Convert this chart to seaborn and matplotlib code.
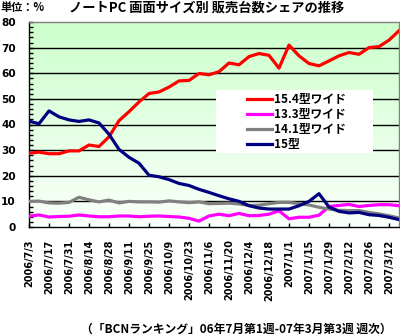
import numpy as np
import pandas as pd
import matplotlib
matplotlib.use("Agg")
import matplotlib.pyplot as plt
from matplotlib.patches import Rectangle
import seaborn as sns

# Weekly share (%) of notebook PC unit sales by screen size, 2006/7/3 - 2007/3/19
weeks = pd.date_range("2006-07-03", periods=38, freq="7D")
week_labels = [f"{d.year}/{d.month}/{d.day}" for d in weeks]

share_154w = [28.8, 29.2, 28.6, 28.6, 29.7, 29.7, 32.0, 31.4, 35.2, 41.5,
              45.0, 48.8, 52.1, 52.7, 54.6, 57.0, 57.2, 59.9, 59.4, 60.6,
              64.0, 63.3, 66.5, 67.7, 67.0, 62.0, 71.0, 66.8, 63.8, 62.9,
              64.8, 66.8, 68.1, 67.4, 70.0, 70.4, 72.9, 76.6]
share_133w = [4.2, 4.7, 3.9, 4.1, 4.2, 4.7, 4.3, 4.0, 4.0, 4.3,
              4.3, 4.0, 4.2, 4.3, 4.1, 3.9, 3.4, 2.3, 4.3, 5.0,
              4.4, 5.3, 4.4, 4.5, 5.0, 6.3, 3.2, 3.8, 3.8, 4.6,
              8.0, 8.4, 8.8, 8.0, 8.4, 8.7, 8.7, 8.3]
share_141w = [10.0, 10.1, 9.4, 9.3, 9.6, 11.6, 10.6, 9.8, 10.5, 9.4,
              10.0, 9.8, 9.8, 9.7, 10.2, 9.8, 9.5, 9.8, 9.1, 9.2,
              9.3, 9.0, 8.4, 8.5, 9.1, 9.6, 9.6, 9.1, 8.6, 7.7,
              7.0, 6.5, 6.4, 6.4, 5.7, 5.1, 4.4, 3.5]
share_15 = [41.3, 40.3, 45.3, 43.0, 41.8, 41.2, 41.8, 40.6, 36.2, 30.3,
            27.2, 24.9, 20.2, 19.6, 18.5, 17.0, 16.2, 14.7, 13.5, 12.2,
            11.0, 10.0, 8.3, 7.4, 7.0, 7.0, 7.0, 8.3, 10.0, 13.0,
            7.8, 6.1, 5.5, 5.7, 4.8, 4.5, 3.8, 2.9]

series_names = ["15.4型ワイド", "13.3型ワイド", "14.1型ワイド", "15型"]
series_colors = ["#FF0000", "#FF00FF", "#808080", "#000080"]

df = pd.DataFrame({"week": np.arange(len(weeks)),
                   series_names[0]: share_154w,
                   series_names[1]: share_133w,
                   series_names[2]: share_141w,
                   series_names[3]: share_15})
long_df = df.melt(id_vars="week", var_name="size", value_name="share")

plt.rcParams["font.family"] = ["Noto Sans CJK JP", "DejaVu Sans"]
plt.rcParams["font.weight"] = "bold"

fig = plt.figure(figsize=(4.0, 3.36), dpi=100)
ax = fig.add_axes([29 / 400, 1 - 227 / 336, 370 / 400, 205 / 336])

# vertical green-to-white gradient behind the plot
grad = np.linspace(0, 1, 256)[:, None]
top = np.array([204, 255, 204]) / 255
bot = np.array([250, 255, 250]) / 255
img = top[None, None, :] * (1 - grad[..., None]) + bot[None, None, :] * grad[..., None]
img = np.repeat(img, 2, axis=1)
ax.imshow(img, extent=[0, 37, 0, 80], aspect="auto", origin="upper", zorder=0)

for yv in range(10, 80, 10):
    ax.axhline(yv, color="black", lw=1.0, zorder=1)

sns.lineplot(data=long_df, x="week", y="share", hue="size",
             hue_order=series_names, palette=series_colors,
             linewidth=2.3, legend=False, ax=ax, zorder=3)

ax.set_xlim(0, 37)
ax.set_ylim(0, 80)
ax.set_xlabel("")
ax.set_ylabel("")

tick_pos = np.arange(0, 37, 2)
ax.set_xticks(tick_pos)
ax.set_xticklabels([week_labels[i] for i in tick_pos], rotation=90,
                   fontsize=7, fontweight="bold", family="DejaVu Sans")
ax.set_yticks(np.arange(0, 81, 10))
ax.set_yticklabels([str(v) for v in range(0, 81, 10)], fontsize=7.6,
                   fontweight="bold", family="DejaVu Sans")
ax.set_yticks(np.arange(0, 81, 2), minor=True)
ax.tick_params(axis="x", direction="in", length=3, width=1, pad=9, colors="black")
ax.tick_params(axis="y", which="both", direction="in", length=3, width=1,
               pad=9.5)

for side in ("left", "bottom"):
    ax.spines[side].set_color("black")
    ax.spines[side].set_linewidth(1)
for side in ("top", "right"):
    ax.spines[side].set_color("#808080")
    ax.spines[side].set_linewidth(1)

# white legend panel with the entries set in from its left edge
ax.add_patch(Rectangle((0.505, 0.361), 0.425, 0.307, transform=ax.transAxes,
                       facecolor="white", edgecolor="none", zorder=4))
leg = ax.legend(ax.lines[-4:], series_names, loc="upper left",
                bbox_to_anchor=(0.590, 0.652),
                frameon=False, handlelength=2.1, handletextpad=0.2,
                labelspacing=0.15, borderpad=0, borderaxespad=0,
                prop={"size": 8.5, "weight": "bold"})
for h in leg.get_lines():
    h.set_linewidth(2.3)
leg.set_zorder(5)

fig.text(0.0, 1 - 8 / 336, "単位：%", fontsize=8, fontweight="bold",
         ha="left", va="center")
fig.text(207 / 400, 1 - 8 / 336, "ノートPC 画面サイズ別 販売台数シェアの推移",
         fontsize=9.5, fontweight="bold", ha="center", va="center")
fig.text(392 / 400, 1 - 329 / 336,
         "（「BCNランキング」06年7月第1週-07年3月第3週 週次）",
         fontsize=8.5, fontweight="bold", ha="right", va="center")

fig.savefig("out.png", dpi=100)
